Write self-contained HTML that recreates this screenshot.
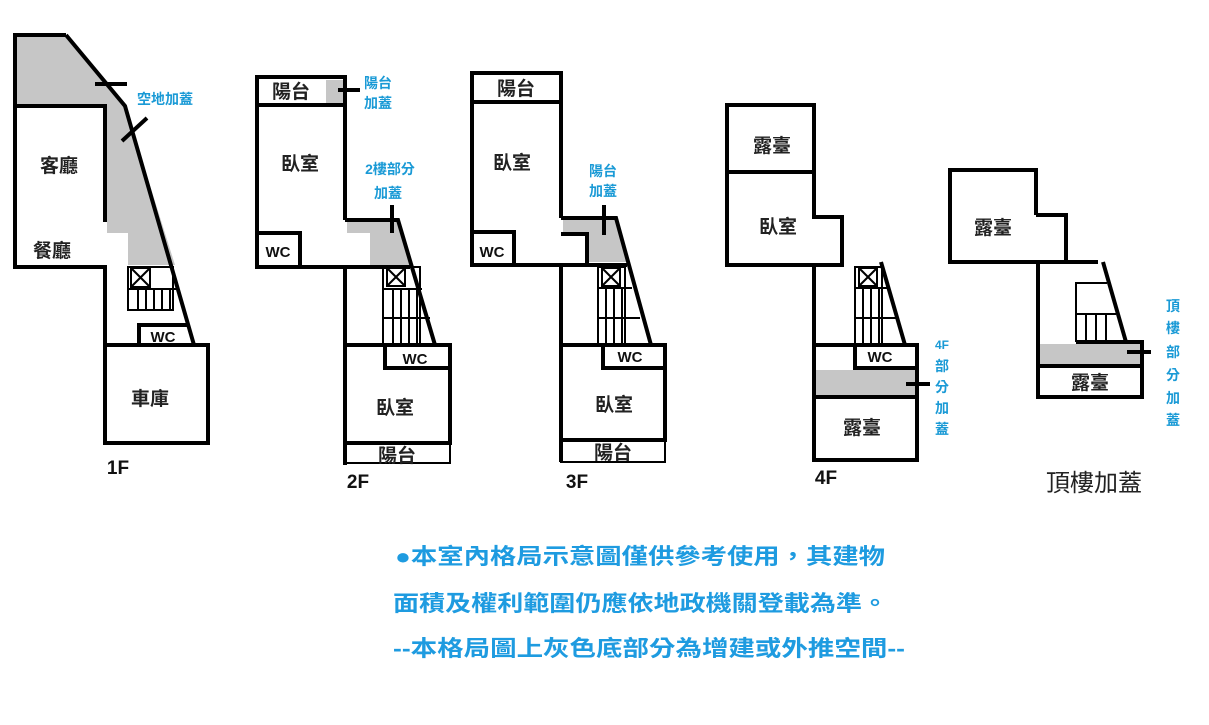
<!DOCTYPE html>
<html><head><meta charset="utf-8"><style>
body{margin:0;background:#fff}
svg text{font-family:"Liberation Sans","Noto Sans CJK TC",sans-serif}
.k{font-size:19px;fill:#222;font-weight:bold}
.b{font-size:14px;fill:#1a9ad6;font-weight:bold}
.w{font-size:15px;font-weight:bold;fill:#111}
.f{font-size:19px;font-weight:bold;fill:#111}
.t{font-size:22px;font-weight:bold;fill:#1e9be0}
</style></head><body>
<svg width="1209" height="720" viewBox="0 0 1209 720" xmlns="http://www.w3.org/2000/svg">
<g fill="#c6c6c6">
<polygon points="15,35 66,35 125,106 15,106"/>
<polygon points="107,106 125,106 175,265 128,265 128,233 107,233"/>
<rect x="326" y="80" width="17" height="23"/>
<polygon points="347,222 398,222 412,265 370,265 370,233 347,233"/>
<polygon points="563,220 616,220 628,262 587,262 587,234 563,234"/>
<rect x="816" y="370" width="100" height="27"/>
<rect x="1040" y="344" width="101" height="22"/>
</g>
<g fill="none" stroke="#000" stroke-width="4" stroke-linejoin="miter">
<polyline points="105,222 105,106 15,106"/>
<polyline points="66,35 15,35 15,267 105,267 105,345"/>
<polyline points="66,35 125,106 194,345"/>
<rect x="105" y="345" width="103" height="98"/>
<polyline points="139,345 139,325 188,325"/>
<line x1="95" y1="84" x2="127" y2="84"/>
<line x1="122" y1="141" x2="147" y2="118"/>
<polyline points="345,220 345,77 257,77 257,267 410,267"/>
<line x1="257" y1="105" x2="345" y2="105"/>
<polyline points="345,220 398,220 435,345"/>
<rect x="257" y="233" width="43" height="34"/>
<polyline points="345,267 345,465"/>
<rect x="345" y="345" width="105" height="98"/>
<polyline points="385,345 385,368 450,368"/>
<line x1="338" y1="90" x2="360" y2="90"/>
<line x1="392" y1="205" x2="392" y2="233"/>
<polyline points="561,218 561,73 472,73 472,265 627,265"/>
<line x1="472" y1="102" x2="561" y2="102"/>
<polyline points="561,218 616,218 651,345"/>
<polyline points="561,234 587,234 587,265"/>
<rect x="472" y="232" width="42" height="33"/>
<line x1="561" y1="265" x2="561" y2="462"/>
<rect x="561" y="345" width="104" height="95"/>
<polyline points="603,345 603,368 665,368"/>
<line x1="604" y1="205" x2="604" y2="235"/>
<rect x="727" y="105" width="87" height="67"/>
<polyline points="727,172 727,265 842,265 842,217 814,217 814,172"/>
<line x1="814" y1="265" x2="814" y2="460"/>
<rect x="814" y="345" width="103" height="115"/>
<line x1="881" y1="262" x2="905" y2="345"/>
<polyline points="855,345 855,368 917,368"/>
<line x1="816" y1="397" x2="916" y2="397"/>
<line x1="906" y1="384" x2="930" y2="384"/>
<polyline points="1036,215 1036,170 950,170 950,262 1098,262"/>
<polyline points="1036,215 1066,215 1066,262"/>
<polyline points="1038,262 1038,397 1142,397 1142,342 1076,342"/>
<line x1="1040" y1="366" x2="1142" y2="366"/>
<line x1="1103" y1="262" x2="1126" y2="342"/>
<line x1="1127" y1="352" x2="1151" y2="352"/>
</g>
<g fill="none" stroke="#000" stroke-width="2">
<rect x="128" y="267" width="45" height="43"/><rect x="131" y="268" width="19" height="19"/><line x1="131" y1="268" x2="150" y2="287"/><line x1="150" y1="268" x2="131" y2="287"/><line x1="128" y1="289" x2="176" y2="289"/>
<path d="M138 289V310M146 289V310M154 289V310M162 289V310M170 289V310"/>
<rect x="383" y="267" width="37" height="78"/><rect x="387" y="268" width="18" height="18"/><line x1="387" y1="268" x2="405" y2="286"/><line x1="405" y1="268" x2="387" y2="286"/>
<path d="M383 289H422M383 318H430M393 289V345M401 289V345M409 289V345M417 289V345"/>
<rect x="345" y="443" width="105" height="20"/>
<rect x="598" y="267" width="27" height="78"/><rect x="602" y="268" width="18" height="18"/><line x1="602" y1="268" x2="620" y2="286"/><line x1="620" y1="268" x2="602" y2="286"/>
<path d="M598 288H632M598 318H640M606 288V345M614 288V345M622 288V345"/>
<rect x="561" y="440" width="104" height="22"/>
<rect x="855" y="267" width="27" height="78"/><rect x="859" y="268" width="18" height="18"/><line x1="859" y1="268" x2="877" y2="286"/><line x1="877" y1="268" x2="859" y2="286"/>
<path d="M855 288H888M855 318H896M863 288V345M871 288V345M879 288V345"/>
<path d="M1076 342V283H1107M1076 314H1116M1086 314V342M1096 314V342M1106 314V342"/>
</g>
<g text-anchor="middle">
<text class="k" x="59" y="172">客廳</text><text class="k" x="52" y="257">餐廳</text>
<text class="w" x="163" y="342">WC</text><text class="k" x="150" y="405">車庫</text>
<text class="f" x="118" y="474">1F</text>
<text class="k" x="291" y="98">陽台</text><text class="k" x="300" y="170">臥室</text>
<text class="w" x="278" y="257">WC</text><text class="w" x="415" y="364">WC</text>
<text class="k" x="395" y="414">臥室</text><text class="k" x="397" y="462">陽台</text>
<text class="f" x="358" y="488">2F</text>
<text class="k" x="516" y="95">陽台</text><text class="k" x="512" y="169">臥室</text>
<text class="w" x="492" y="257">WC</text><text class="w" x="630" y="362">WC</text>
<text class="k" x="614" y="411">臥室</text><text class="k" x="613" y="459">陽台</text>
<text class="f" x="577" y="488">3F</text>
<text class="k" x="772" y="152">露臺</text><text class="k" x="778" y="233">臥室</text>
<text class="w" x="880" y="362">WC</text><text class="k" x="862" y="434">露臺</text>
<text class="f" x="826" y="484">4F</text>
<text class="k" x="993" y="234">露臺</text><text class="k" x="1090" y="389">露臺</text>
<text x="1094" y="491" style="font-size:24px;fill:#222">頂樓加蓋</text>
<text class="b" x="165" y="104">空地加蓋</text>
<text class="b" x="378" y="88">陽台</text><text class="b" x="378" y="108">加蓋</text>
<text class="b" x="390" y="174">2樓部分</text><text class="b" x="388" y="198">加蓋</text>
<text class="b" x="603" y="176">陽台</text><text class="b" x="603" y="196">加蓋</text>
<text class="b" x="942" y="349" style="font-size:12px">4F</text>
<text class="b" x="942" y="371">部</text><text class="b" x="942" y="392">分</text><text class="b" x="942" y="413">加</text><text class="b" x="942" y="434">蓋</text>
<text class="b" x="1173" y="311">頂</text><text class="b" x="1173" y="333">樓</text><text class="b" x="1173" y="357">部</text><text class="b" x="1173" y="380">分</text><text class="b" x="1173" y="403">加</text><text class="b" x="1173" y="425">蓋</text>
</g>
<text class="t" x="395" y="564" textLength="490" lengthAdjust="spacingAndGlyphs">●本室內格局示意圖僅供參考使用，其建物</text>
<text class="t" x="393" y="611" textLength="495" lengthAdjust="spacingAndGlyphs">面積及權利範圍仍應依地政機關登載為準。</text>
<text class="t" x="393" y="656" textLength="512" lengthAdjust="spacingAndGlyphs">--本格局圖上灰色底部分為增建或外推空間--</text>
</svg>
</body></html>
